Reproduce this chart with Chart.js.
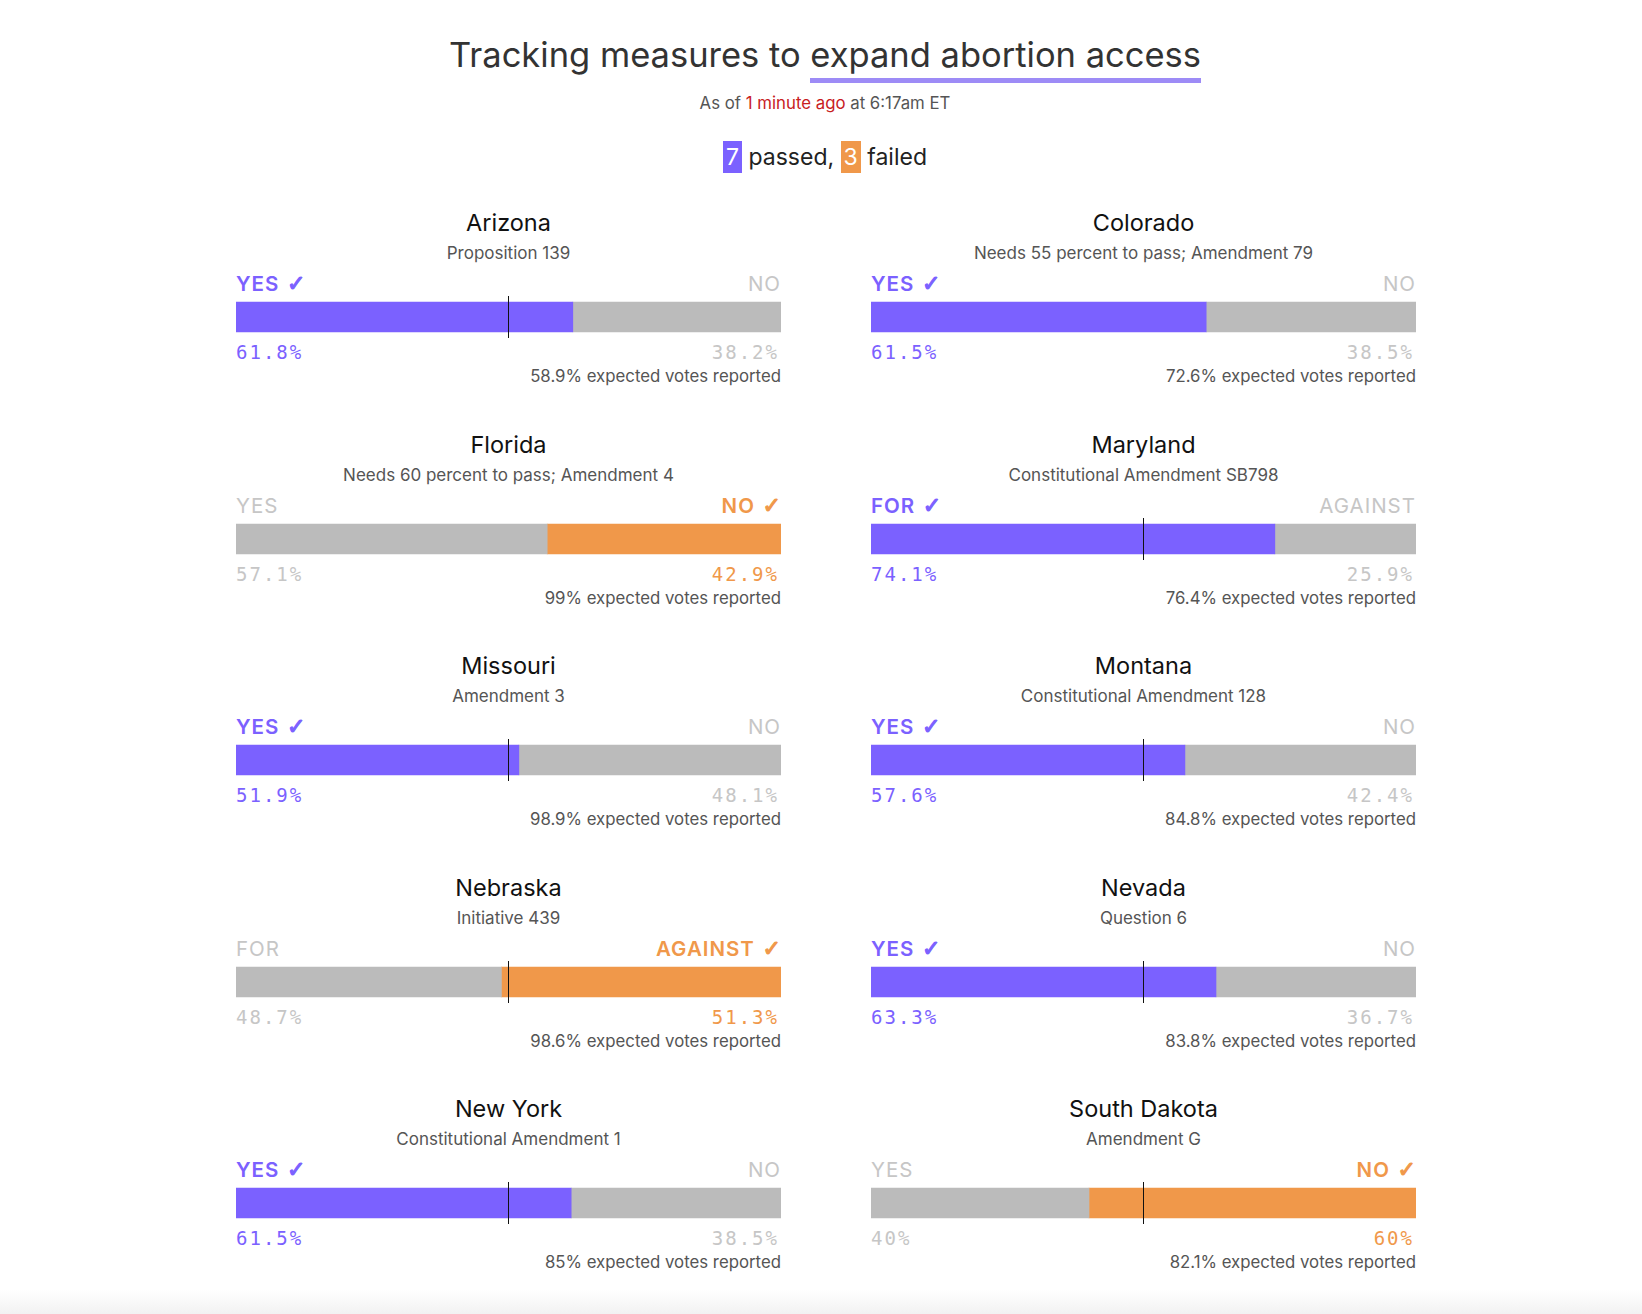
<!DOCTYPE html>
<html>
<head>
<meta charset="utf-8">
<script src="https://cdn.jsdelivr.net/npm/chart.js@4/dist/chart.umd.min.js"></script>
<style>
  html, body { margin:0; padding:0; background:#fff; }
  body { width:1642px; height:1314px; position:relative; overflow:hidden; font-family: Inter, "Noto Sans", sans-serif; }
  .abs { position:absolute; white-space:nowrap; }
  .title { left:0; width:1650px; text-align:center; top:30px; font-size:34.5px; line-height:50px; color:#333; letter-spacing:0; }
  .title .ul { border-bottom:5px solid #9D8BF6; padding-bottom:3px; }
  .sub { left:0; width:1650px; text-align:center; top:92px; font-size:16.8px; line-height:22px; color:#555; }
  .sub .red { color:#C8201E; }
  .legend { left:0; width:1650px; text-align:center; top:140px; font-size:23px; line-height:34px; color:#222; }
  .legend .box { display:inline-block; color:#fff; padding:0 3px; line-height:32px; }
  .ptitle { text-align:center; font-size:23.5px; line-height:30px; color:#111; }
  .psub { text-align:center; font-size:17px; line-height:22px; color:#555; }
  .lab { font-size:20.5px; line-height:24px; letter-spacing:1px; }
  .lab .ck { font-family:"DejaVu Sans", sans-serif; font-weight:700; font-size:22px; letter-spacing:0; -webkit-text-stroke:1.2px currentColor; }
  .pct { font-family:"DejaVu Sans Mono", monospace; font-size:19px; line-height:22px; letter-spacing:2px; }
  .rep { font-size:16.8px; line-height:22px; color:#555; text-align:right; }
  canvas { position:absolute; }
  .fade { position:absolute; left:0; top:1290px; width:1642px; height:24px; background:linear-gradient(#ffffff, #f2f2f2); }
</style>
</head>
<body>
<div class="abs title">Tracking measures to <span class="ul">expand abortion access</span></div>
<div class="abs sub">As of <span class="red">1 minute ago</span> at 6:17am ET</div>
<div class="abs legend" id="legend"></div>
<div class="fade"></div>
<script>
const states = ['Arizona','Colorado','Florida','Maryland','Missouri','Montana','Nebraska','Nevada','New York','South Dakota'];
const measures = ['Proposition 139','Needs 55 percent to pass; Amendment 79','Needs 60 percent to pass; Amendment 4','Constitutional Amendment SB798','Amendment 3','Constitutional Amendment 128','Initiative 439','Question 6','Constitutional Amendment 1','Amendment G'];
const yesLabels = ['YES','YES','YES','FOR','YES','YES','FOR','YES','YES','YES'];
const noLabels  = ['NO','NO','NO','AGAINST','NO','NO','AGAINST','NO','NO','NO'];
const yesPct = [61.8, 61.5, 57.1, 74.1, 51.9, 57.6, 48.7, 63.3, 61.5, 40];
const noPct  = [38.2, 38.5, 42.9, 25.9, 48.1, 42.4, 51.3, 36.7, 38.5, 60];
const reported = [58.9, 72.6, 99, 76.4, 98.9, 84.8, 98.6, 83.8, 85, 82.1];
const passed = [true, true, false, true, true, true, false, true, true, false];
const midline = [50, null, null, 50, 50, 50, 50, 50, 50, 50];

const PURPLE = '#7B61FF', ORANGE = '#F0984A', GRAY = '#BBBBBB', LIGHT = '#C6C6C6';

const nPassed = passed.filter(p => p).length;
const nFailed = passed.length - nPassed;
document.getElementById('legend').innerHTML =
  '<span class="box" style="background:' + PURPLE + '">' + nPassed + '</span> passed, <span class="box" style="background:' + ORANGE + '">' + nFailed + '</span> failed';

const midlinePlugin = {
  id: 'midline',
  afterDatasetsDraw(chart, args, opts) {
    if (opts.value == null) return;
    const x = Math.floor(chart.scales.x.getPixelForValue(opts.value)) + 0.5;
    const ctx = chart.ctx;
    ctx.save();
    ctx.strokeStyle = '#111';
    ctx.lineWidth = 1;
    ctx.beginPath();
    ctx.moveTo(x, 1);
    ctx.lineTo(x, 43);
    ctx.stroke();
    ctx.restore();
  }
};

function el(cls, text, css, check) {
  const d = document.createElement('div');
  d.className = 'abs ' + cls;
  d.textContent = text;
  if (check) {
    const s = document.createElement('span');
    s.className = 'ck';
    s.textContent = ' \u2713';
    d.appendChild(s);
  }
  Object.assign(d.style, css);
  document.body.appendChild(d);
  return d;
}

const W = 545;
const lefts = [236, 871];
states.forEach((st, i) => {
  const col = i % 2, row = Math.floor(i / 2);
  const L = lefts[col];
  const T = 223 + row * 221.5;
  el('ptitle', st, { left: L + 'px', width: W + 'px', top: (T - 15) + 'px' });
  el('psub', measures[i], { left: L + 'px', width: W + 'px', top: (T + 30 - 11) + 'px' });
  const yesC = passed[i] ? PURPLE : LIGHT;
  const noC = passed[i] ? LIGHT : ORANGE;
  el('lab', yesLabels[i], { left: L + 'px', top: (T + 61 - 12) + 'px', color: yesC, fontWeight: passed[i] ? '600' : '400' }, passed[i]);
  el('lab', noLabels[i], { left: L + 'px', width: W + 'px', textAlign: 'right', top: (T + 61 - 12) + 'px', color: noC, fontWeight: passed[i] ? '400' : '600' }, !passed[i]);
  el('pct', yesPct[i] + '%', { left: L + 'px', top: (T + 129 - 11) + 'px', color: yesC });
  el('pct', noPct[i] + '%', { left: (L - 2) + 'px', width: W + 'px', textAlign: 'right', top: (T + 129 - 11) + 'px', color: noC });
  el('rep', reported[i] + '% expected votes reported', { left: L + 'px', width: W + 'px', top: (T + 153 - 11) + 'px' });

  const cv = document.createElement('canvas');
  cv.width = W; cv.height = 44;
  cv.style.left = L + 'px'; cv.style.top = (T + 72) + 'px';
  cv.style.width = W + 'px'; cv.style.height = '44px';
  document.body.appendChild(cv);
  new Chart(cv, {
    type: 'bar',
    data: {
      labels: [st],
      datasets: [
        { data: [yesPct[i]], backgroundColor: passed[i] ? PURPLE : GRAY, barThickness: 30, borderWidth: 0 },
        { data: [noPct[i]], backgroundColor: passed[i] ? GRAY : ORANGE, barThickness: 30, borderWidth: 0 }
      ]
    },
    options: {
      indexAxis: 'y',
      responsive: false,
      animation: false,
      events: [],
      layout: { padding: 0 },
      plugins: { legend: { display: false }, tooltip: { enabled: false }, midline: { value: midline[i] } },
      scales: {
        x: { stacked: true, min: 0, max: 100, display: false },
        y: { stacked: true, display: false }
      }
    },
    plugins: [midlinePlugin]
  });
});
</script>
</body>
</html>
